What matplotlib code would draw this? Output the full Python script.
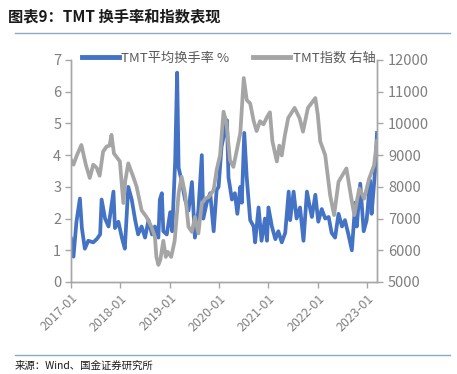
import matplotlib
matplotlib.use('Agg')
import matplotlib.pyplot as plt
from matplotlib.lines import Line2D

plt.rcParams['font.family'] = ['Noto Sans CJK SC', 'DejaVu Sans']

# TMT average turnover (%), decimal year -> value
turnover_t = [
    2017.00, 2017.05, 2017.11, 2017.18, 2017.22, 2017.28, 2017.35, 2017.45, 2017.52, 2017.59,
    2017.62, 2017.69, 2017.76, 2017.86, 2017.89, 2017.96, 2018.03, 2018.09, 2018.16, 2018.23,
    2018.30, 2018.36, 2018.43, 2018.50, 2018.57, 2018.64, 2018.70, 2018.77, 2018.80, 2018.84,
    2018.87, 2018.94, 2019.01, 2019.05, 2019.11, 2019.15, 2019.18, 2019.24, 2019.31, 2019.38,
    2019.45, 2019.51, 2019.58, 2019.65, 2019.68, 2019.75, 2019.82, 2019.89, 2019.95, 2019.99,
    2020.05, 2020.16, 2020.19, 2020.26, 2020.32, 2020.37, 2020.43, 2020.46, 2020.51, 2020.56,
    2020.63, 2020.70, 2020.73, 2020.80, 2020.86, 2020.93, 2020.97, 2021.00, 2021.07, 2021.14,
    2021.20, 2021.27, 2021.34, 2021.41, 2021.44, 2021.51, 2021.57, 2021.64, 2021.71, 2021.78,
    2021.84, 2021.88, 2021.95, 2022.01, 2022.08, 2022.15, 2022.22, 2022.28, 2022.35, 2022.42,
    2022.49, 2022.55, 2022.62, 2022.69, 2022.76, 2022.79, 2022.86, 2022.93, 2022.99, 2023.06,
    2023.09, 2023.13, 2023.16, 2023.20,
]
turnover = [
    1.37, 0.80, 1.90, 2.63, 1.70, 1.05, 1.30, 1.25, 1.35, 1.50,
    2.60, 2.00, 1.75, 2.85, 1.70, 1.90, 1.40, 1.05, 3.00, 2.60,
    1.95, 1.50, 1.75, 1.40, 1.95, 1.50, 1.75, 1.40, 2.60, 2.80,
    1.60, 1.50, 2.20, 1.60, 3.80, 6.60, 3.60, 3.20, 2.60, 2.25,
    3.15, 1.40, 2.25, 4.00, 2.00, 2.50, 2.80, 1.60, 2.90, 3.00,
    4.27, 5.10, 3.30, 2.60, 2.80, 2.15, 3.00, 2.50, 4.70, 3.30,
    1.95, 1.75, 1.25, 2.35, 1.30, 2.00, 1.30, 2.35, 1.75, 1.35,
    1.60, 1.25, 1.55, 2.85, 1.95, 2.85, 2.00, 2.35, 1.30, 2.85,
    2.35, 2.05, 2.75, 1.90, 2.30, 2.00, 2.05, 1.55, 1.40, 2.15,
    1.75, 1.95, 1.50, 1.00, 2.50, 1.75, 3.10, 1.60, 1.95, 3.20,
    2.15, 2.90, 3.50, 4.70,
]

# TMT index (right axis)
index_t = [
    2017.00, 2017.05, 2017.12, 2017.21, 2017.30, 2017.38, 2017.45, 2017.52, 2017.58, 2017.65,
    2017.72, 2017.78, 2017.82, 2017.87, 2017.92, 2017.99, 2018.06, 2018.10, 2018.16, 2018.26,
    2018.33, 2018.43, 2018.53, 2018.63, 2018.70, 2018.73, 2018.77, 2018.81, 2018.87, 2018.92,
    2018.96, 2019.03, 2019.10, 2019.18, 2019.24, 2019.31, 2019.38, 2019.45, 2019.51, 2019.58,
    2019.65, 2019.72, 2019.79, 2019.89, 2019.95, 2020.02, 2020.09, 2020.15, 2020.22, 2020.29,
    2020.36, 2020.43, 2020.50, 2020.56, 2020.63, 2020.70, 2020.76, 2020.83, 2020.90, 2020.97,
    2021.03, 2021.08, 2021.17, 2021.22, 2021.27, 2021.33, 2021.40, 2021.53, 2021.63, 2021.70,
    2021.80, 2021.95, 2022.00, 2022.05, 2022.15, 2022.25, 2022.33, 2022.42, 2022.58, 2022.68,
    2022.74, 2022.84, 2022.94, 2023.04, 2023.14, 2023.20,
]
index_vals = [
    8850, 8700, 9000, 9320, 8700, 8280, 8700, 8600, 8350, 9110,
    9270, 9300, 9640, 9050, 8950, 8800, 7490, 8200, 8740, 8320,
    8000, 7260, 7050, 6740, 6420, 5790, 5540, 5700, 6300, 5790,
    5950, 5790, 6300, 7790, 8320, 7790, 6740, 6580, 7050, 6530,
    7470, 7630, 7680, 7900, 8530, 9000, 10370, 10010, 8840, 8630,
    9160, 9700, 11430, 10740, 10630, 10080, 9760, 10070, 9970, 10200,
    10350, 9440, 8800, 9300, 8990, 9600, 10170, 10490, 10170, 9740,
    10490, 10800, 10270, 9430, 9000, 7740, 7110, 8160, 8580, 7630,
    7110, 7950, 7630, 8260, 8680, 9450,
]

years = [2017, 2018, 2019, 2020, 2021, 2022, 2023]
year_labels = ['2017-01', '2018-01', '2019-01', '2020-01', '2021-01', '2022-01', '2023-01']

blue = '#4472C4'
gray = '#A5A5A5'
axis_c = '#A6A6A6'
text_c = '#7F7F7F'

fig = plt.figure(figsize=(4.57, 3.74), dpi=100)
ax = fig.add_axes([0.1554, 0.246, 0.825 - 0.1554, 0.8396 - 0.246])
ax2 = ax.twinx()

ax.plot(turnover_t, turnover, color=blue, lw=2.7, solid_joinstyle='round')
ax2.plot(index_t, index_vals, color=gray, lw=2.7, solid_joinstyle='round')

ax.set_xlim(2017.0, turnover_t[-1])
ax.set_ylim(0, 7)
ax2.set_ylim(5000, 12000)
ax.set_yticks(range(0, 8))
ax2.set_yticks(range(5000, 12001, 1000))
ax.set_xticks(years)
ax.set_xticklabels(year_labels, rotation=45, ha='right', rotation_mode='anchor')

for a in (ax, ax2):
    a.spines['top'].set_visible(False)
    for s in ('left', 'right', 'bottom'):
        a.spines[s].set_color(axis_c)
        a.spines[s].set_linewidth(1.0)
    a.tick_params(colors=axis_c, labelcolor=text_c, labelsize=10.5, length=4, width=1.0)
ax.tick_params(axis='x', labelsize=9, pad=3)
ax.tick_params(axis='y', pad=3)
ax2.tick_params(axis='y', pad=4)

handles = [Line2D([], [], color=blue, lw=3.5), Line2D([], [], color=gray, lw=3.5)]
fig.legend(handles, ['TMT平均换手率 %', 'TMT指数 右轴'], loc='center', ncol=2,
           bbox_to_anchor=(0.5, 0.845), frameon=False, fontsize=9.5,
           handlelength=2.8, handletextpad=0.2, columnspacing=1.8, labelcolor='#595959')

fig.text(0.018, 0.955, '图表9：TMT 换手率和指数表现', fontsize=11, fontweight='bold',
         color='#1A1A1A', va='center', ha='left')
fig.add_artist(Line2D([0.033, 0.985], [1 - 33 / 374, 1 - 33 / 374], color='#8EA9C1', lw=1.0))
fig.add_artist(Line2D([0.033, 0.985], [1 - 355 / 374, 1 - 355 / 374], color='#8EA9C1', lw=1.0))
fig.text(0.033, 1 - 366 / 374, '来源：Wind、国金证券研究所', fontsize=7.5, color='#1A1A1A',
         va='center', ha='left')

fig.savefig('out.png', dpi=100)
